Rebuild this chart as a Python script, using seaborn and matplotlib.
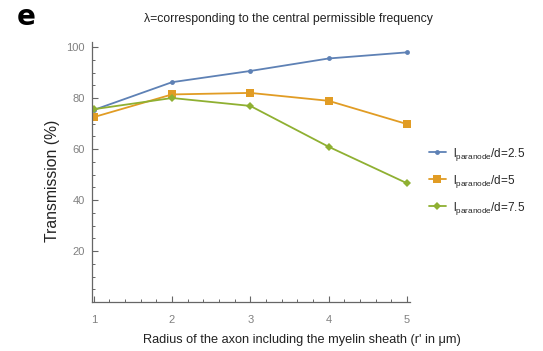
import matplotlib
matplotlib.use("Agg")
import matplotlib.pyplot as plt
from matplotlib.ticker import MultipleLocator
import seaborn as sns
import pandas as pd

radius = [1, 2, 3, 4, 5]
trans_25 = [75.3, 86.2, 90.6, 95.5, 97.9]
trans_5 = [72.5, 81.4, 82.0, 78.9, 69.8]
trans_75 = [75.6, 80.0, 76.9, 60.9, 46.6]
labels = [r"$l_{\mathrm{paranode}}$/d=2.5",
          r"$l_{\mathrm{paranode}}$/d=5",
          r"$l_{\mathrm{paranode}}$/d=7.5"]

rows = []
for lab, vals in zip(labels, [trans_25, trans_5, trans_75]):
    for r, v in zip(radius, vals):
        rows.append({"radius": r, "transmission": v, "series": lab})
df = pd.DataFrame(rows)

sns.set_theme(style="white")
plt.rcParams["font.family"] = ["Liberation Sans", "DejaVu Sans"]
plt.rcParams["mathtext.fontset"] = "custom"
plt.rcParams["mathtext.rm"] = "Liberation Sans"
plt.rcParams["mathtext.it"] = "Liberation Sans"

palette = {labels[0]: "#5E81B5", labels[1]: "#E19C24", labels[2]: "#8FB032"}
markers = {labels[0]: "o", labels[1]: "s", labels[2]: "D"}
sizes = {labels[0]: 3.5, labels[1]: 5.5, labels[2]: 4.5}

fig = plt.figure(figsize=(5.43, 3.51), dpi=100)
ax = fig.add_axes([0.169, 0.1396, 0.586, 0.741])

for lab in labels:
    sub = df[df["series"] == lab]
    sns.lineplot(data=sub, x="radius", y="transmission", ax=ax,
                 color=palette[lab], marker=markers[lab],
                 markersize=sizes[lab], markeredgewidth=0,
                 linewidth=1.3, label=lab)

ax.set_xlim(0.975, 5.04)
ax.set_ylim(0, 102)
ax.xaxis.set_major_locator(MultipleLocator(1))
ax.xaxis.set_minor_locator(MultipleLocator(0.2))
ax.yaxis.set_minor_locator(MultipleLocator(5))
ax.set_yticks([20, 40, 60, 80, 100])

gray = "#666666"
for side in ["top", "right"]:
    ax.spines[side].set_visible(False)
for side in ["left", "bottom"]:
    ax.spines[side].set_color(gray)
    ax.spines[side].set_linewidth(0.9)
ax.tick_params(axis="both", which="both", bottom=True, left=True,
               top=False, right=False)
ax.tick_params(axis="both", which="major", direction="in", length=4.5,
               width=0.8, color=gray, labelcolor="#808080", labelsize=8, pad=5)
ax.tick_params(axis="x", which="major", pad=9)
ax.tick_params(axis="both", which="minor", direction="in", length=2.5,
               width=0.7, color=gray)

ax.set_xlabel("")
ax.set_ylabel("")
fig.text(302 / 543, 1 - 340 / 351,
         "Radius of the axon including the myelin sheath (r' in μm)",
         ha="center", va="center", fontsize=9.2, color="#222222")
fig.text(52 / 543, 1 - 181 / 351, "Transmission (%)", rotation=90,
         ha="center", va="center", fontsize=11.3, color="#222222")

fig.text(288 / 543, 1 - 19 / 351,
         "λ=corresponding to the central permissible frequency",
         ha="center", va="center", fontsize=8.85, color="#222222")
fig.text(17 / 543, 1 - 17 / 351, "e", ha="left", va="center", fontsize=20,
         fontweight="bold", family="DejaVu Sans", color="black")

ax.legend(loc="center left", bbox_to_anchor=(1.025, 0.465), frameon=False,
          fontsize=8.5, handlelength=1.5, handletextpad=0.6,
          labelspacing=0.85)

fig.savefig("out.png", dpi=100)
